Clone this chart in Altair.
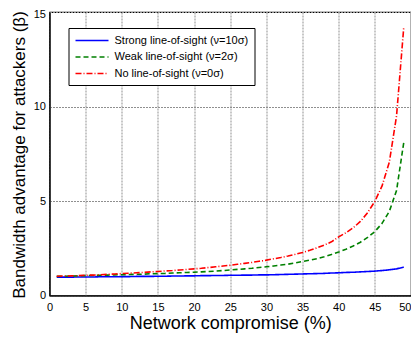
import altair as alt
import pandas as pd

x_vals = list(range(1, 50))

strong_los = [0.97, 0.97, 0.97, 0.98, 0.98, 0.98, 0.99, 0.99, 0.99, 1.00,
              1.00, 1.01, 1.01, 1.01, 1.02, 1.02, 1.03, 1.03, 1.04, 1.04,
              1.05, 1.05, 1.06, 1.06, 1.07, 1.07, 1.08, 1.08, 1.09, 1.09,
              1.10, 1.11, 1.12, 1.13, 1.14, 1.15, 1.16, 1.17, 1.19, 1.20,
              1.22, 1.23, 1.25, 1.27, 1.29, 1.32, 1.36, 1.41, 1.50]

weak_los = [1.01, 1.02, 1.03, 1.04, 1.05, 1.06, 1.07, 1.08, 1.09, 1.10,
            1.11, 1.12, 1.13, 1.15, 1.16, 1.17, 1.19, 1.20, 1.22, 1.23,
            1.25, 1.27, 1.29, 1.32, 1.35, 1.38, 1.41, 1.44, 1.48, 1.52,
            1.56, 1.61, 1.66, 1.72, 1.80, 1.87, 1.95, 2.05, 2.17, 2.30,
            2.45, 2.62, 2.82, 3.07, 3.38, 3.82, 4.45, 5.55, 8.10]

no_los = [1.02, 1.03, 1.04, 1.05, 1.07, 1.08, 1.10, 1.12, 1.14, 1.16,
          1.18, 1.20, 1.22, 1.25, 1.27, 1.30, 1.32, 1.35, 1.38, 1.41,
          1.44, 1.48, 1.52, 1.56, 1.60, 1.65, 1.70, 1.75, 1.81, 1.87,
          1.94, 2.01, 2.09, 2.18, 2.28, 2.39, 2.52, 2.67, 2.84, 3.10,
          3.32, 3.58, 3.92, 4.38, 4.98, 5.80, 7.05, 9.50, 14.20]

series_names = ["Strong line-of-sight (ν=10σ)",
                "Weak line-of-sight (ν=2σ)",
                "No line-of-sight (ν=0σ)"]
series_colors = ["#0000ff", "#008000", "#ff0000"]
series_dashes = [[1, 0], [5, 3], [6, 2, 1, 2]]

x_ticks = list(range(0, 51, 5))
y_ticks = [0, 5, 10, 15]

rows = []
for name, vals in zip(series_names, [strong_los, weak_los, no_los]):
    for xv, yv in zip(x_vals, vals):
        rows.append({"x": xv, "y": yv, "series": name})
df = pd.DataFrame(rows)

FONT = "Liberation Sans"

chart = alt.Chart(df).mark_line(strokeWidth=1.6, clip=True).encode(
    x=alt.X("x:Q", scale=alt.Scale(domain=[0, 50], nice=False),
            axis=alt.Axis(values=x_ticks, title="Network compromise (%)",
                          grid=True, ticks=False, labelPadding=6, titlePadding=2,
                          labelAlign={"condition": {"test": "datum.value == 50", "value": "right"},
                                      "value": "center"},
                          labelFontSize=11, titleFontSize=18, labelFlush=False,
                          titleFontWeight="normal")),
    y=alt.Y("y:Q", scale=alt.Scale(domain=[0, 15], nice=False),
            axis=alt.Axis(values=y_ticks, title="Bandwidth advantage for attackers (β)",
                          grid=True, ticks=False, labelPadding=4, titlePadding=5,
                          titleY=142.5,
                          labelOffset={"condition": {"test": "datum.value == 15", "value": 2},
                                       "value": 0},
                          labelFontSize=11, titleFontSize=17, labelFlush=False,
                          titleFontWeight="normal")),
    color=alt.Color("series:N", sort=series_names,
                    scale=alt.Scale(domain=series_names, range=series_colors),
                    legend=alt.Legend(title=None, orient="none", legendX=19, legendY=16,
                                      symbolType="M-1,0H5", symbolSize=121,
                                      symbolStrokeWidth=1.6, labelFontSize=11,
                                      labelOffset=27, rowPadding=4.5, padding=6,
                                      fillColor="white", strokeColor="black",
                                      labelFont=FONT)),
    strokeDash=alt.StrokeDash("series:N", sort=series_names,
                              scale=alt.Scale(domain=series_names, range=series_dashes),
                              legend=None),
).properties(
    width=361.5,
    height=283.5,
    autosize=alt.AutoSizeParams(type="none"),
    padding={"left": 41.5, "top": 4, "right": 0, "bottom": 43},
).configure(font=FONT).configure_axis(
    gridColor="#8f8f8f", gridDash=[2, 1], gridWidth=1, gridOpacity=1,
    domainColor="black", domainWidth=1.2,
    labelColor="black", titleColor="black", labelFont=FONT, titleFont=FONT,
).configure_view(stroke="black", strokeWidth=1.2)

chart.save("out.html", embed_options={"renderer": "svg", "actions": False})
